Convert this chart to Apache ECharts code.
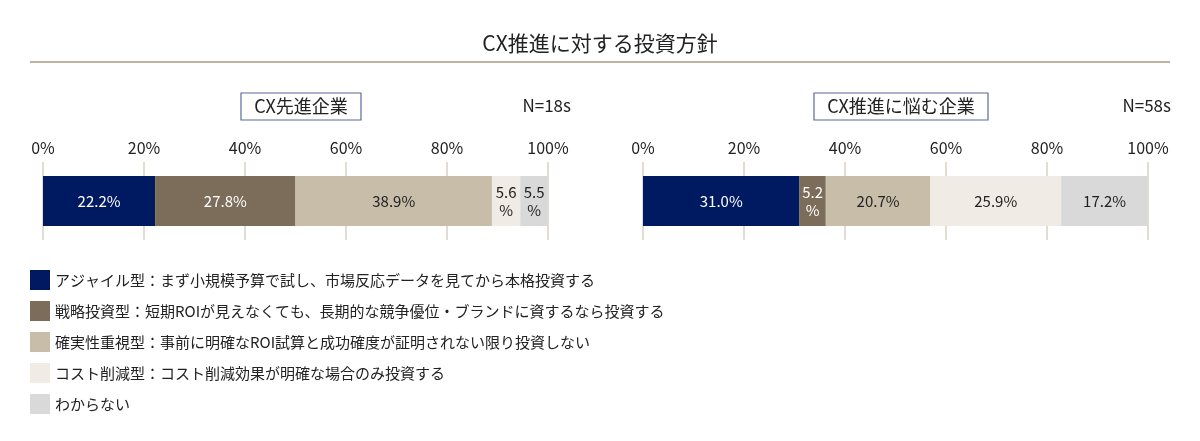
<!DOCTYPE html>
<html>
<head>
<meta charset="utf-8">
<script src="https://cdn.jsdelivr.net/npm/echarts@6/dist/echarts.min.js"></script>
<style>
  html, body { margin: 0; padding: 0; background: #fff; }
  #chart { width: 1200px; height: 441px; }
</style>
</head>
<body>
<div id="chart"></div>
<script>
// 回答カテゴリ
const categories = [
    'アジャイル型：まず小規模予算で試し、市場反応データを見てから本格投資する',
    '戦略投資型：短期ROIが見えなくても、長期的な競争優位・ブランドに資するなら投資する',
    '確実性重視型：事前に明確なROI試算と成功確度が証明されない限り投資しない',
    'コスト削減型：コスト削減効果が明確な場合のみ投資する',
    'わからない'
];
const colors = ['#001a62', '#7b6d5a', '#c8bda9', '#f0ebe4', '#d9d9d9'];
const labelColors = ['#ffffff', '#ffffff', '#222222', '#222222', '#222222'];

// CX先進企業 (N=18s)
const advancedValues = [22.2, 27.8, 38.9, 5.6, 5.5];
// CX推進に悩む企業 (N=58s)
const strugglingValues = [31.0, 5.2, 20.7, 25.9, 17.2];

const tickLabels = ['0%', '20%', '40%', '60%', '80%', '100%'];

const FONT = '"Noto Sans CJK JP", "Noto Sans", sans-serif';

var myChart = echarts.init(document.getElementById('chart'));

function makeSeries(values, axisIndex) {
    return values.map((v, i) => ({
        name: categories[i],
        type: 'bar',
        stack: 'total' + axisIndex,
        xAxisIndex: axisIndex,
        yAxisIndex: axisIndex,
        barWidth: 50,
        itemStyle: { color: colors[i] },
        label: {
            show: true,
            position: 'inside',
            color: labelColors[i],
            fontSize: 15,
            fontFamily: FONT,
            lineHeight: 18,
            formatter: p => v < 8 ? v.toFixed(1) + '\n%' : v.toFixed(1) + '%'
        },
        data: [v]
    }));
}

function makeXAxis(idx) {
    return {
        type: 'value',
        gridIndex: idx,
        position: 'top',
        min: 0,
        max: 100,
        interval: 20,
        axisLine: { show: false },
        axisTick: { show: false },
        splitLine: { show: true, lineStyle: { color: '#e2ddd3', width: 2 } },
        axisLabel: {
            margin: 6,
            fontSize: 16,
            color: '#222',
            fontFamily: FONT,
            formatter: v => tickLabels[v / 20]
        }
    };
}

function makeYAxis(idx) {
    return {
        type: 'category',
        gridIndex: idx,
        data: [''],
        axisLine: { show: false },
        axisTick: { show: false },
        axisLabel: { show: false }
    };
}

var option = {
    animation: false,
    title: {
        text: 'CX推進に対する投資方針',
        left: 'center',
        top: 28,
        textStyle: { fontSize: 21, fontWeight: 'normal', color: '#222', fontFamily: FONT }
    },
    legend: {
        orient: 'vertical',
        left: 25,
        top: 265,
        itemWidth: 20,
        itemHeight: 20,
        itemGap: 11,
        icon: 'rect',
        data: categories,
        textStyle: { fontSize: 15, color: '#222', fontFamily: FONT }
    },
    grid: [
        { left: 43, right: 652, top: 162, bottom: 201 },
        { left: 643, right: 52, top: 162, bottom: 201 }
    ],
    xAxis: [makeXAxis(0), makeXAxis(1)],
    yAxis: [makeYAxis(0), makeYAxis(1)],
    graphic: [
        { type: 'line', shape: { x1: 30, y1: 62, x2: 1170, y2: 62 }, style: { stroke: '#a89a85', lineWidth: 1.5 } },
        { type: 'rect', shape: { x: 241, y: 93, width: 120, height: 27 }, style: { fill: '#fff', stroke: '#5a6a9a', lineWidth: 1.2 } },
        { type: 'text', x: 301, y: 106, style: { text: 'CX先進企業', align: 'center', verticalAlign: 'middle', fontSize: 18, fill: '#222', fontFamily: FONT } },
        { type: 'text', x: 571, y: 106, style: { text: 'N=18s', align: 'right', verticalAlign: 'middle', fontSize: 17, fill: '#222', fontFamily: FONT } },
        { type: 'rect', shape: { x: 814, y: 93, width: 174, height: 27 }, style: { fill: '#fff', stroke: '#5a6a9a', lineWidth: 1.2 } },
        { type: 'text', x: 901, y: 106, style: { text: 'CX推進に悩む企業', align: 'center', verticalAlign: 'middle', fontSize: 18, fill: '#222', fontFamily: FONT } },
        { type: 'text', x: 1171, y: 106, style: { text: 'N=58s', align: 'right', verticalAlign: 'middle', fontSize: 17, fill: '#222', fontFamily: FONT } }
    ],
    series: makeSeries(advancedValues, 0).concat(makeSeries(strugglingValues, 1))
};

myChart.setOption(option);
</script>
</body>
</html>
